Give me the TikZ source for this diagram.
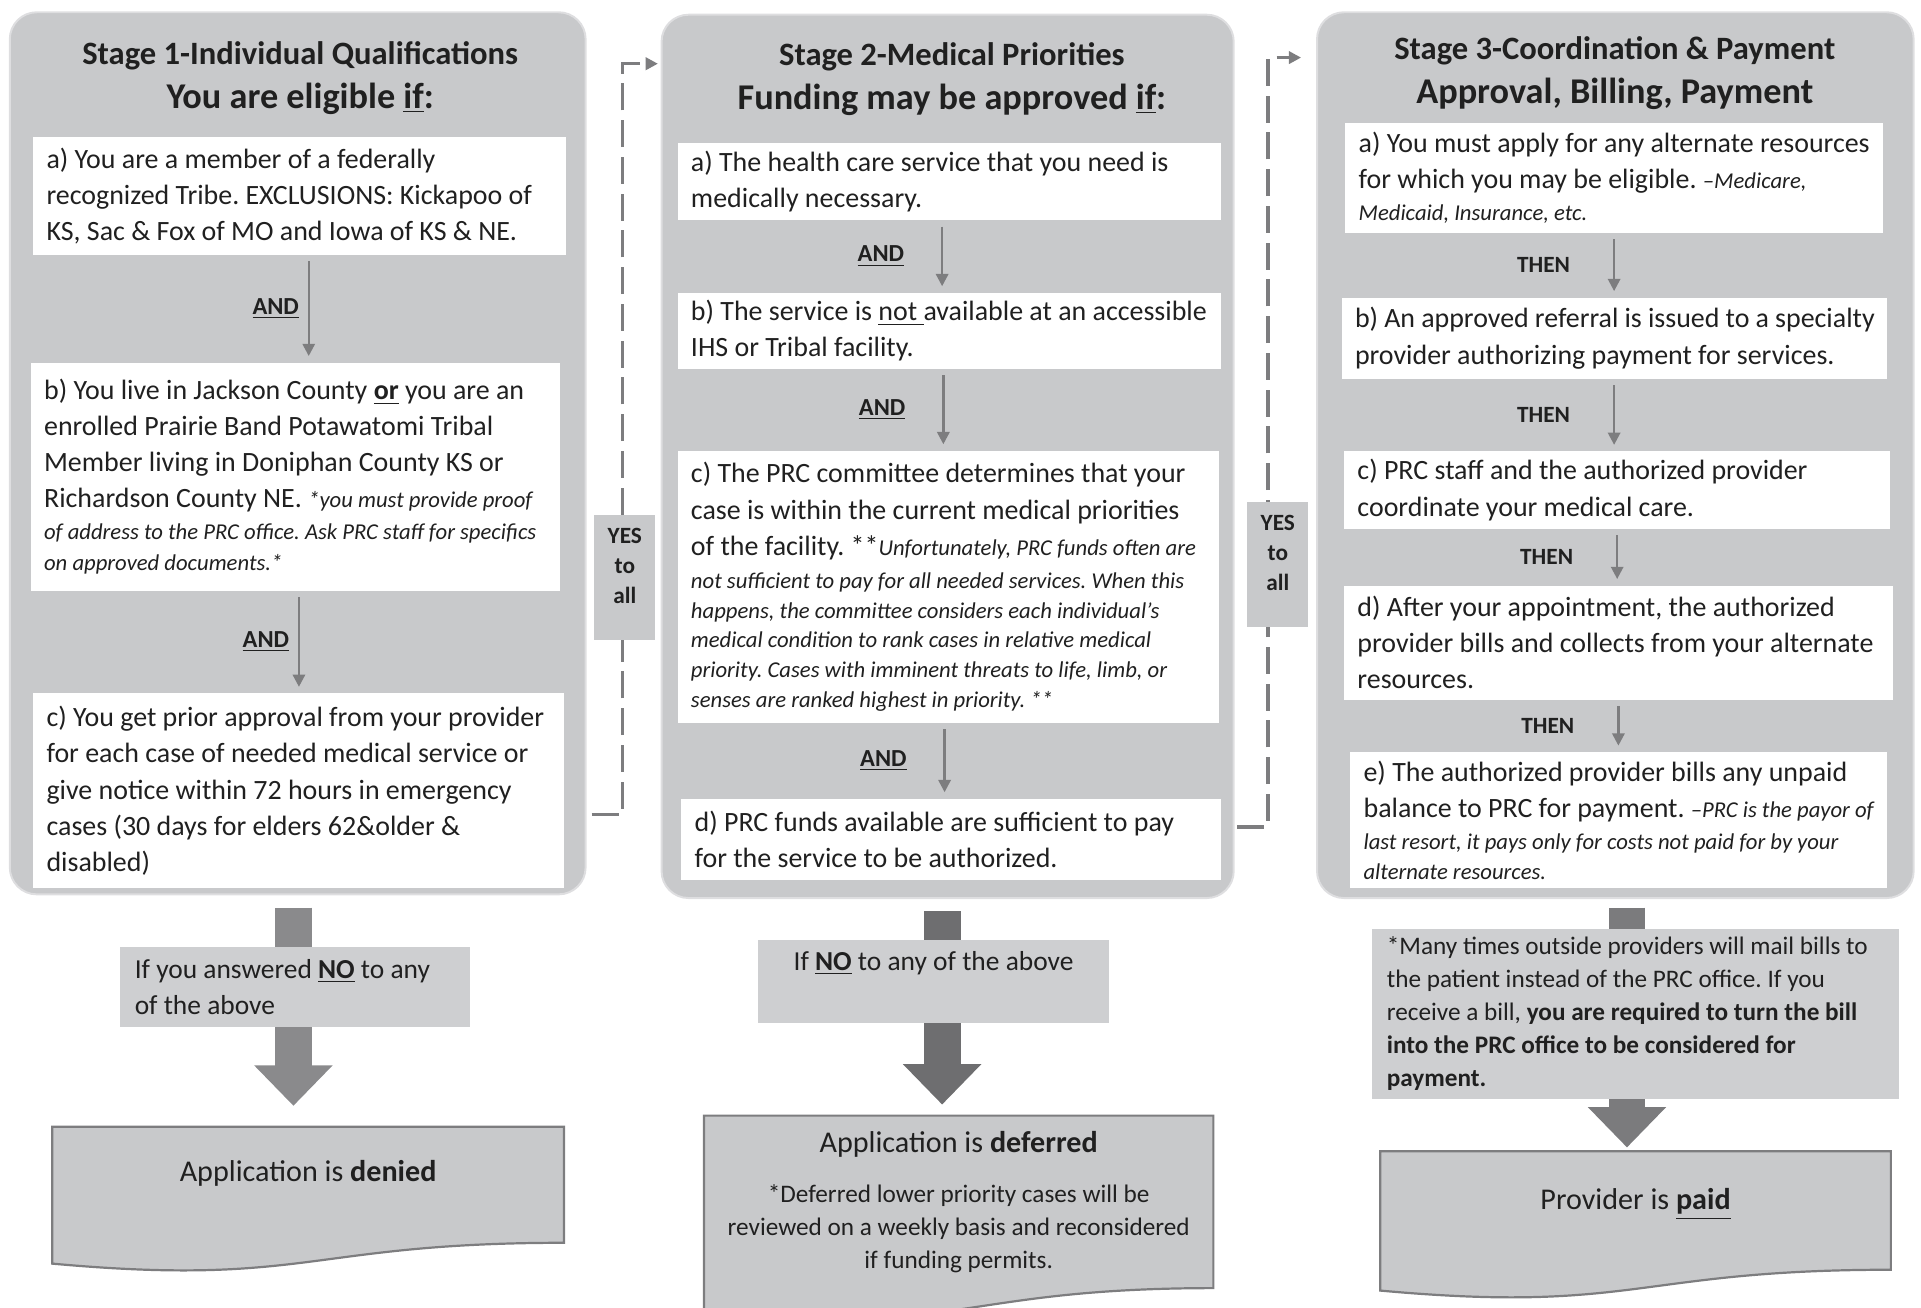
\documentclass[tikz,border=0pt]{standalone}
\usepackage{fontspec}
\setmainfont{Carlito}
\usepackage{tikz}
\usetikzlibrary{arrows.meta, positioning, calc, backgrounds}
\frenchspacing

\definecolor{panelgray}{RGB}{200,201,203}
\definecolor{notegray}{RGB}{206,207,209}
\definecolor{linegray}{RGB}{125,125,127}
\definecolor{blocklight}{RGB}{138,138,140}
\definecolor{blockdark}{RGB}{110,110,112}
\definecolor{blockmid}{RGB}{123,123,125}
\definecolor{textcol}{RGB}{32,32,32}

\newcommand{\aside}[1]{{\itshape\fontsize{9.25}{12}\selectfont #1}}

\begin{document}
\begin{tikzpicture}[x=0.5pt, y=-0.5pt,
    panel/.style={fill=panelgray, draw={rgb,255:red,222;green,222;blue,224}, line width=0.8pt, rounded corners=11pt, inner sep=0pt},
    stagetitle/.style={align=center, text=textcol, font=\fontsize{13.3}{18}\selectfont\bfseries},
    cond/.style={fill=white, align=flush left, text=textcol, inner xsep=5.5pt, inner ysep=0pt, font=\fontsize{11.4}{14.75}\selectfont,
        execute at begin node={\rightskip=0pt plus 1fil minus 8pt\relax\hyphenpenalty=10000\relax}},
    flowarrow/.style={draw=linegray, line width=1pt, -{Triangle[length=5pt, width=5pt]}, shorten <=2.5pt, shorten >=2.5pt},
    andlabel/.style={inner sep=0pt, text=textcol, font=\fontsize{10}{12}\selectfont\bfseries},
    thenlabel/.style={inner sep=0pt, text=textcol, font=\fontsize{9.5}{12}\selectfont\bfseries},
    yesline/.style={draw=linegray, line width=1.25pt, dash pattern=on 11pt off 4pt, -{Triangle[length=5pt, width=5pt]}},
    yesbox/.style={fill=panelgray, align=center, text=textcol, inner sep=0pt, minimum width=25pt, minimum height=51pt, text depth=9.4pt, font=\fontsize{9.5}{12.25}\selectfont\bfseries},
    nobox/.style={fill=notegray, text=textcol, inner xsep=6pt, inner ysep=0pt, font=\fontsize{11.2}{14.75}\selectfont,
        execute at begin node={\hyphenpenalty=10000\relax}},
    blockarrow/.style={line width=15pt, -{Triangle[length=16.5pt, width=31pt]}},
    outcome/.style={align=center, text=textcol, inner sep=0pt},
    outcomeline/.style={fill=panelgray, draw=linegray, line width=0.9pt}
]

\useasboundingbox (0,0) rectangle (1568,1067);

    % Grey panels of the three stages
    \begin{scope}[on background layer]
    \node (panel1) [panel, minimum width=235pt, minimum height=360pt] at (243,370) {};
    \node (panel2) [panel, minimum width=233.5pt, minimum height=360.5pt] at (773.5,372.5) {};
    \node (panel3) [panel, minimum width=243.5pt, minimum height=361.5pt] at (1318.5,371.5) {};
    \end{scope}

    % Stage titles
    \node (title1) [stagetitle] at (245,63.5) {Stage 1-Individual Qualifications\\ {\fontsize{14.8}{18}\selectfont You are eligible \underline{if}:}};
    \node (title2) [stagetitle] at (777,64.5) {Stage 2-Medical Priorities\\ {\fontsize{14.8}{18}\selectfont Funding may be approved \underline{if}:}};
    \node (title3) [stagetitle] at (1318,59.5) {Stage 3-Coordination \& Payment\\ {\fontsize{14.8}{18}\selectfont Approval, Billing, Payment}};

    % Stage 1 conditions
    \node (a1) [cond, text width=206.5pt, minimum height=48pt] at (244.5,160) {a) You are a member of a federally\\ recognized Tribe. EXCLUSIONS: Kickapoo of\\ KS, Sac \& Fox of MO and Iowa of KS \& NE.};
    \node (b1) [cond, text width=205pt, minimum height=93pt] at (241,389) {b) You live in Jackson County \underline{\textbf{or}} you are an\\ enrolled Prairie Band Potawatomi Tribal\\ Member living in Doniphan County KS or\\ Richardson County NE. \aside{*you must provide proof}\\[-2pt] \aside{of address to the PRC office. Ask PRC staff for specifics}\\[-2pt] \aside{on approved documents.*}};
    \node (c1) [cond, text width=205.5pt, minimum height=79.5pt] at (243.5,645.5) {c) You get prior approval from your provider\\ for each case of needed medical service or\\ give notice within 72 hours in emergency\\ cases (30 days for elders 62\&older \&\\ disabled)};

    % Stage 2 conditions
    \node (a2) [cond, text width=211pt, minimum height=31.5pt] at (775,148) {a) The health care service that you need is\\ medically necessary.};
    \node (b2) [cond, text width=211pt, minimum height=31pt] at (775,270) {b) The service is \underline{not\ }available at an accessible\\ IHS or Tribal facility.};
    \node (c2) [cond, text width=210pt, minimum height=111pt] at (774,479) {c) The PRC committee determines that your\\ case is within the current medical priorities\\ of the facility. **\aside{Unfortunately, PRC funds often are}\\[-1.25pt] \aside{not sufficient to pay for all needed services. When this}\\[-2.6pt] \aside{happens, the committee considers each individual’s}\\[-2.6pt] \aside{medical condition to rank cases in relative medical}\\[-2.6pt] \aside{priority. Cases with imminent threats to life, limb, or}\\[-2.6pt] \aside{senses are ranked highest in priority. **}};
    \node (d2) [cond, text width=209.5pt, minimum height=33pt] at (776.5,685) {d) PRC funds available are sufficient to pay\\ for the service to be authorized.};

    % Stage 3 steps
    \node (a3) [cond, text width=208.5pt, minimum height=45pt] at (1317.5,145) {a) You must apply for any alternate resources\\ for which you may be eligible. \aside{–Medicare,}\\[-1.75pt] \aside{Medicaid, Insurance, etc.}};
    \node (b3) [cond, text width=211.5pt, minimum height=33pt] at (1317.5,276) {b) An approved referral is issued to a specialty\\ provider authorizing payment for services.};
    \node (c3) [cond, text width=212pt, minimum height=31.5pt] at (1320,400) {c) PRC staff and the authorized provider\\ coordinate your medical care.};
    \node (d3) [cond, text width=213pt, minimum height=46.5pt] at (1321,524.5) {d) After your appointment, the authorized\\ provider bills and collects from your alternate\\ resources.};
    \node (e3) [cond, text width=208pt, minimum height=55.5pt] at (1321,669.5) {e) The authorized provider bills any unpaid\\ balance to PRC for payment. \aside{–PRC is the payor of}\\[-1.75pt] \aside{last resort, it pays only for costs not paid for by your}\\[-2.75pt] \aside{alternate resources.}};

    % Arrows inside the panels
    \draw[flowarrow] ([xshift=3.75pt]a1.south) -- ([xshift=3.75pt]a1.south |- b1.north) node[midway, left=3.5pt, andlabel] {\underline{AND}};
    \draw[flowarrow] ([xshift=1.5pt]b1.south) -- ([xshift=1.5pt]b1.south |- c1.north) node[midway, left=3.5pt, andlabel] {\underline{AND}};
    \draw[flowarrow] ([xshift=-3pt]a2.south) -- ([xshift=-3pt]a2.south |- b2.north) node[midway, left=15pt, andlabel] {\underline{AND}};
    \draw[flowarrow] ([xshift=-2.5pt]b2.south) -- ([xshift=-2.5pt]b2.south |- c2.north) node[midway, left=15pt, andlabel] {\underline{AND}};
    \draw[flowarrow] ([xshift=-1.5pt]c2.south) -- ([xshift=-1.5pt]c2.south |- d2.north) node[midway, left=15pt, andlabel] {\underline{AND}};
    \draw[flowarrow] (a3.south) -- (a3.south |- b3.north) node[midway, left=17.5pt, thenlabel] {THEN};
    \draw[flowarrow] (b3.south) -- (b3.south |- c3.north) node[midway, left=17.5pt, thenlabel] {THEN};
    \draw[flowarrow] (c3.south) -- (c3.south |- d3.north) node[midway, left=17.5pt, thenlabel] {THEN};
    \draw[flowarrow] (d3.south) -- (d3.south |- e3.north) node[midway, left=17.5pt, thenlabel] {THEN};

    % Dashed YES lines between the stages
    \coordinate (yes1 start) at (483,665);
    \coordinate (yes1 end) at (537,52);
    \coordinate (yes2 start) at (1010,675);
    \coordinate (yes2 end) at (1062,47);
    \begin{scope}[on background layer]
    \draw[yesline] (yes1 start) -- ++(25,0) |- (yes1 end);
    \draw[yesline] (yes2 start) -- ++(25,0) |- (yes2 end);
    \end{scope}
    \node (yes1) [yesbox] at (510,471) {YES\\to\\all};
    \node (yes2) [yesbox] at (1043,461) {YES\\to\\all};

    % Notes below the panels
    \node (no1) [nobox, align=flush left, text width=131pt, minimum height=32.5pt] at (241,805.5) {If you answered \underline{\textbf{NO}} to any\\ of the above};
    \node (no2) [nobox, align=center, minimum width=143pt, minimum height=34pt, text depth=17pt] at (762,801) {If \underline{\textbf{NO}} to any of the above};
    \node (no3) [nobox, align=flush left, text width=203pt, minimum height=69.5pt, font=\fontsize{10.3}{13.5}\selectfont] at (1335,827.5) {*Many times outside providers will mail bills to\\ the patient instead of the PRC office. If you\\ receive a bill, \textbf{you are required to turn the bill}\\ \textbf{into the PRC office to be considered for}\\ \textbf{payment.}};

    % Outcomes
    \node (denied) [outcome, minimum width=208.5pt, minimum height=47pt, text depth=11pt, font=\fontsize{12.3}{15}\selectfont] at (251.5,967) {Application is \textbf{denied}};
    \node (deferred) [outcome, minimum width=207.5pt, minimum height=70pt, font=\fontsize{10.3}{13.5}\selectfont] at (782.5,981) {{\fontsize{12.3}{15}\selectfont Application is \textbf{deferred}}\\[7pt] *Deferred lower priority cases will be\\ reviewed on a weekly basis and reconsidered\\ if funding permits.};
    \node (paid) [outcome, minimum width=208pt, minimum height=48pt, text depth=9pt, font=\fontsize{12.3}{15}\selectfont] at (1335,988) {Provider is \underline{\textbf{paid}}};

    % Block arrows and outcome shapes
    \begin{scope}[on background layer]
    \draw[blockarrow, blocklight, shorten <=5pt, shorten >=8.5pt] ([xshift=-0.75pt]no1.center |- panel1.south) -- ([xshift=-0.75pt]no1.center |- denied.north);
    \draw[blockarrow, blockdark, shorten <=5pt, shorten >=4.5pt] ([xshift=3.5pt]no2.center |- panel2.south) -- ([xshift=3.5pt]no2.center |- deferred.north);
    \draw[blockarrow, blockmid, shorten <=3.5pt, shorten >=1.5pt] ([xshift=-3.5pt]no3.center |- panel3.south) -- ([xshift=-3.5pt]no3.center |- paid.north);
    \draw[outcomeline] (denied.north west) -- (denied.north east) -- (denied.south east) .. controls (denied.south) and ($(denied.south)+(0,36)$) .. ($(denied.south west)+(0,17)$) -- cycle;
    \draw[outcomeline] (deferred.north west) -- (deferred.north east) -- (deferred.south east) .. controls (deferred.south) and ($(deferred.south)+(0,40)$) .. ($(deferred.south west)+(0,20)$) -- cycle;
    \draw[outcomeline] (paid.north west) -- (paid.north east) -- (paid.south east) .. controls (paid.south) and ($(paid.south)+(0,36)$) .. ($(paid.south west)+(0,17)$) -- cycle;
    \end{scope}

\end{tikzpicture}
\end{document}
